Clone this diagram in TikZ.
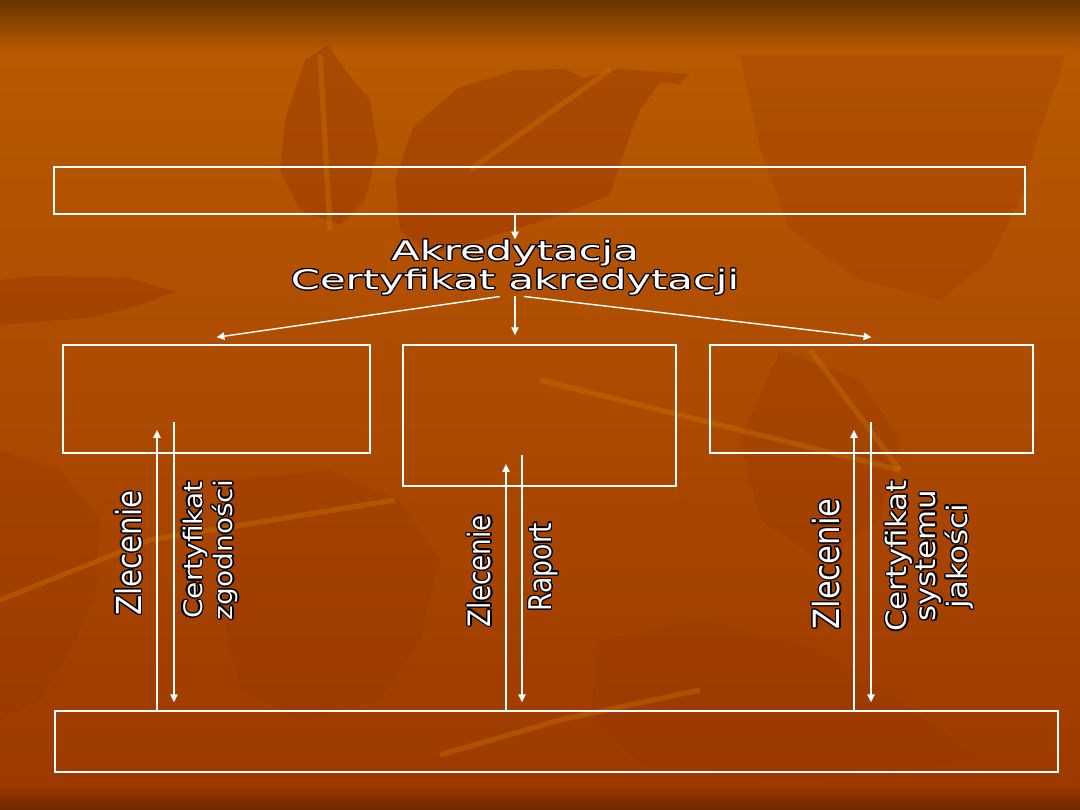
\documentclass[tikz,border=0pt]{standalone}
\usepackage{fontspec}
\setmainfont{DejaVu Sans}
\newfontfamily\widefont[FakeStretch=1.55]{DejaVu Sans}
\newfontfamily\narrowfont[FakeStretch=0.85]{DejaVu Sans}
\newfontfamily\certfont[FakeStretch=1.1]{DejaVu Sans}
\usepackage{contour}
\contourlength{0.7pt}
\usetikzlibrary{arrows.meta}
\definecolor{bgtop}{HTML}{683400}
\definecolor{bgmid}{HTML}{B95A00}
\definecolor{bglow}{HTML}{9E3A00}
\definecolor{bgedge}{HTML}{6E2800}
\definecolor{leafdark}{HTML}{9A3600}
\definecolor{leaflight}{HTML}{C97C00}
\newcommand{\ol}[1]{\contour{black}{#1}}

\begin{document}
\begin{tikzpicture}[x=0.02cm,y=-0.02cm,
  box/.style={draw=white,line width=0.8pt},
  flow/.style={white,line width=0.8pt,-{Triangle[length=4.5pt,width=4.2pt]}},
  leaf/.style={fill=leafdark,opacity=0.45},
  streak/.style={leaflight,line width=3pt,opacity=0.35},
  lbl/.style={white,align=center,inner sep=0pt},
  vlbl/.style={lbl,rotate=90}]
% background
\useasboundingbox (0,0) rectangle (1080,810);
\shade[top color=bgtop,bottom color=bgmid] (0,0) rectangle (1080,52);
\shade[top color=bgmid,bottom color=bglow] (0,52) rectangle (1080,785);
\shade[top color=bglow,bottom color=bgedge] (0,785) rectangle (1080,810);
\fill[leaf] (413,127)--(458,88)--(516,70)--(565,69)--(583,78)--(620,69)--(689,74)--(680,84)--(660,82)--(640,110)--(625,150)--(610,195)--(560,215)--(480,240)--(430,255)--(400,230)--(395,180)--cycle;
\fill[leaf] (328,45)--(345,70)--(370,100)--(378,150)--(365,200)--(340,225)--(300,210)--(280,170)--(285,120)--(305,60)--cycle;
\fill[leaf,opacity=0.25] (740,55)--(1065,55)--(1060,75)--(1040,130)--(1020,200)--(990,260)--(940,300)--(860,280)--(790,230)--(760,150)--cycle;
\fill[leaf] (0,280)--(40,276)--(130,278)--(175,292)--(140,305)--(90,318)--(30,322)--(0,325)--cycle;
\fill[leaf,opacity=0.3] (0,450)--(60,470)--(100,520)--(95,600)--(70,650)--(40,700)--(0,720)--cycle;
\fill[leaf,opacity=0.3] (230,480)--(330,470)--(400,500)--(440,560)--(420,640)--(380,700)--(300,720)--(240,690)--(220,600)--cycle;
\fill[leaf,opacity=0.3] (600,640)--(700,620)--(820,650)--(900,700)--(980,760)--(800,780)--(650,770)--(590,720)--cycle;
\fill[leaf,opacity=0.3] (780,350)--(860,380)--(900,440)--(880,520)--(820,560)--(760,520)--(740,440)--cycle;
\draw[streak] (320,55)--(330,230);
\draw[streak] (0,600)--(150,540)--(395,500);
\draw[streak] (810,350)--(900,470);
\draw[streak] (540,380)--(700,420)--(900,470);
\draw[streak] (440,755)--(560,720)--(700,690);
\draw[streak] (610,70)--(470,170);

% boxes
\node[box,minimum width=971*0.02cm,minimum height=47*0.02cm] (topbox) at (539.5,190.5) {};
\node[box,minimum width=307*0.02cm,minimum height=108*0.02cm] (lbox) at (216.5,399) {};
\node[box,minimum width=273*0.02cm,minimum height=141*0.02cm] (mbox) at (539.5,415.5) {};
\node[box,minimum width=323*0.02cm,minimum height=108*0.02cm] (rbox) at (871.5,399) {};
\node[box,minimum width=1003*0.02cm,minimum height=61*0.02cm] (botbox) at (556.5,741.5) {};

% centre text
\node[lbl,font=\widefont\fontsize{15.3}{14.8}\selectfont] (akr) at (515,268)
  {\ol{Akredytacja}\\\ol{Certyfikat akredytacji}};
\draw[flow] (akr.north |- topbox.south) -- (akr.north);
\draw[flow] ([xshift=-15*0.02cm]akr.south) -- ([yshift=7*0.02cm]lbox.north);
\draw[flow] (akr.south) -- ([yshift=9*0.02cm]akr.south |- mbox.north);
\draw[flow] ([xshift=9*0.02cm]akr.south) -- ([yshift=7*0.02cm]rbox.north);

% up / down arrows
\coordinate (zl1) at (157,430);
\coordinate (cz1) at (174,422);
\coordinate (zl2) at (506,464);
\coordinate (rp2) at (522,455);
\coordinate (zl3) at (854,430);
\coordinate (cs3) at (871,422);
\draw[flow] (botbox.north -| zl1) -- (zl1);
\draw[flow] (cz1) -- ([yshift=8*0.02cm]botbox.north -| cz1);
\draw[flow] (botbox.north -| zl2) -- (zl2);
\draw[flow] (rp2) -- ([yshift=8*0.02cm]botbox.north -| rp2);
\draw[flow] (botbox.north -| zl3) -- (zl3);
\draw[flow] (cs3) -- ([yshift=8*0.02cm]botbox.north -| cs3);

% vertical labels
\node[vlbl,font=\narrowfont\fontsize{19.6}{19.6}\selectfont] (zlec1) at (129,553) {\ol{Zlecenie}};
\node[vlbl,font=\certfont\fontsize{14.5}{17.5}\selectfont] (cert1) at (211,550) {\ol{Certyfikat}\\\ol{zgodności}};
\node[vlbl,font=\narrowfont\fontsize{17.6}{17.6}\selectfont] (zlec2) at (480,571) {\ol{Zlecenie}};
\node[vlbl,font=\narrowfont\fontsize{17.8}{17.8}\selectfont] (rap2) at (544,567) {\ol{Raport}};
\node[vlbl,font=\narrowfont\fontsize{20.5}{20.5}\selectfont] (zlec3) at (827,564) {\ol{Zlecenie}};
\node[vlbl,font=\certfont\fontsize{16}{16.5}\selectfont] (cert3) at (930,556) {\ol{Certyfikat}\\\ol{systemu}\\\ol{jakości}};
\end{tikzpicture}
\end{document}
